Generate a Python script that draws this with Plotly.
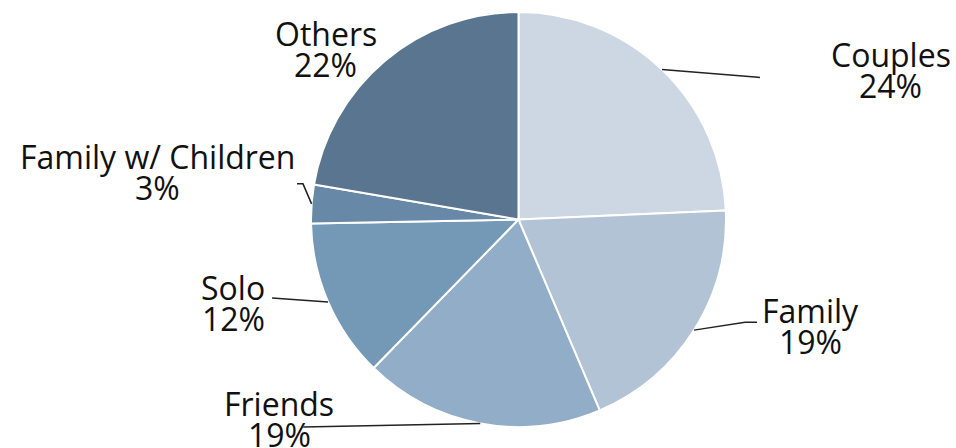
import math
import plotly.graph_objects as go

# ---------------- data ----------------
categories = ["Couples", "Family", "Friends", "Solo", "Family w/ Children", "Others"]
shares = [24.3, 19.3, 18.7, 12.4, 3.0, 22.3]
colors = ["#cdd7e3", "#b2c3d6", "#92adc8", "#7499b6", "#6888a8", "#5a758f"]

# ---------------- layout / styling ----------------
W, H = 956, 448
CX, CY, R = 518.5, 219.5, 207.5          # pie centre and radius (px)
FONT = "Open Sans"
FS = 32
LINE_GAP = 31                             # baseline-to-baseline distance (px)

# per-slice label styling, offsets (px) from the slice's rim point at mid-angle
# (elbow dx, elbow dy, end dx, end dy, text-centre dx, first-baseline dy, draw line)
label_style = [
    (93, 7.4, 98, 8, 229, -3.6, True),
    (51, -8, 63, -8, 116, -8, True),
    (-177, 3.6, -177, 3.6, -201, -8.4, True),
    (-56, -4, -56, -4, -95, -3, True),
    (-8.6, -20, -14.6, -20, -153.6, -36, True),
    (0, 0, 0, 0, -59, -16, False),
]

def px(x):
    return x / W

def py(y):
    return 1 - y / H

total = sum(shares)
fig = go.Figure(go.Pie(
    labels=categories,
    values=shares,
    sort=False,
    direction="clockwise",
    rotation=0,
    marker=dict(colors=colors, line=dict(color="white", width=2)),
    textinfo="none",
    hoverinfo="label+percent",
    showlegend=False,
    domain=dict(x=[px(CX - R), px(CX + R)], y=[py(CY + R), py(CY - R)]),
))

shapes = []
annotations = []
cum = 0.0
for name, v, st in zip(categories, shares, label_style):
    mid = (cum + v / 2) / total * 2 * math.pi
    cum += v
    ex = CX + R * math.sin(mid)
    ey = CY - R * math.cos(mid)
    edx, edy, ndx, ndy, tdx, tdy, draw = st
    if draw:
        path = "M {:.5f},{:.5f} L {:.5f},{:.5f} L {:.5f},{:.5f}".format(
            px(ex), py(ey), px(ex + edx), py(ey + edy), px(ex + ndx), py(ey + ndy))
        shapes.append(dict(type="path", xref="paper", yref="paper", path=path,
                           line=dict(color="#222222", width=1.5)))
    tx = ex + tdx
    b1 = ey + tdy
    pct = "{:.0f}%".format(round(v / total * 100))
    for txt, base in ((name, b1), (pct, b1 + LINE_GAP)):
        annotations.append(dict(
            text=txt, x=px(tx), y=py(base - 0.36 * FS), xref="paper", yref="paper",
            xanchor="center", yanchor="middle", showarrow=False, borderpad=0,
            font=dict(family=FONT, size=FS, color="#111111"),
        ))

fig.update_layout(
    width=W, height=H,
    margin=dict(l=0, r=0, t=0, b=0),
    paper_bgcolor="white", plot_bgcolor="white",
    shapes=shapes, annotations=annotations,
)

fig.write_html("out.html", config={"displayModeBar": False},
               post_script="document.body.style.margin='0';")
